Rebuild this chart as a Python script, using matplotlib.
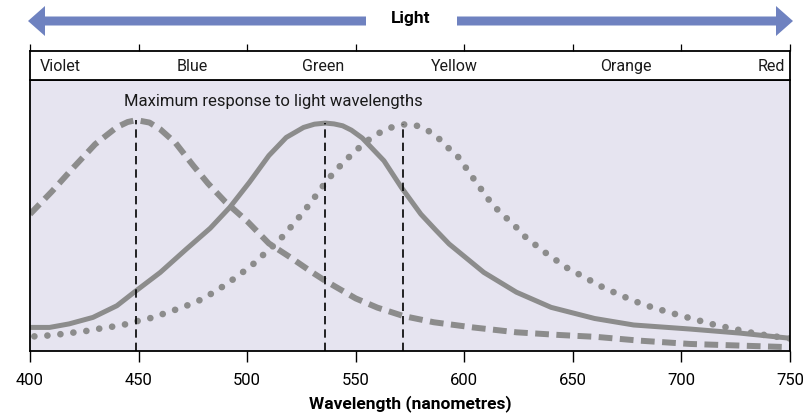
import numpy as np
import matplotlib.pyplot as plt
from matplotlib.patches import Polygon

plt.rcParams['font.family'] = ['Roboto', 'DejaVu Sans']

# wavelength (nm) / relative response
blue_nm = [400, 410, 420, 430, 440, 445, 449, 455, 460, 467, 475, 482, 490, 500, 510, 520,
           530, 536, 550, 560, 572, 586, 604, 624, 644, 661, 681, 704, 727, 750]
blue_val = [0.505, 0.588, 0.677, 0.763, 0.826, 0.845, 0.852, 0.843, 0.818, 0.768, 0.686,
            0.618, 0.550, 0.479, 0.397, 0.345, 0.290, 0.259, 0.194, 0.160, 0.129, 0.106,
            0.087, 0.069, 0.059, 0.052, 0.038, 0.026, 0.020, 0.014]

green_nm = [400, 409, 418, 429, 440, 448, 460, 472, 483, 492, 501, 510, 518, 526, 531,
            536, 540, 544, 548, 553, 563, 571, 580, 587, 593, 609, 624, 640, 660, 678,
            704, 727, 750]
green_val = [0.087, 0.087, 0.100, 0.124, 0.167, 0.217, 0.290, 0.376, 0.453, 0.530, 0.622,
             0.721, 0.788, 0.825, 0.837, 0.841, 0.838, 0.831, 0.815, 0.786, 0.702, 0.604,
             0.505, 0.445, 0.395, 0.290, 0.217, 0.161, 0.120, 0.096, 0.081, 0.066, 0.047]

red_nm = [402, 408, 414, 420, 426, 433, 439, 445, 451, 457, 462, 468, 474, 480, 485,
          490, 495, 500, 505, 509, 514, 518, 522, 526, 530, 533.5, 537, 541, 545.5, 550,
          555, 560, 565, 572, 577, 583, 588, 592, 597, 600.5, 604, 607.5, 611, 615, 619.5,
          624, 628, 633, 638, 643, 648, 654, 659, 664.5, 670, 676, 681, 687, 693, 699,
          705, 711, 717, 723, 729, 735, 741, 750]
red_val = [0.054, 0.057, 0.062, 0.068, 0.074, 0.084, 0.091, 0.100, 0.114, 0.124, 0.139,
           0.155, 0.173, 0.194, 0.219, 0.244, 0.273, 0.303, 0.335, 0.368, 0.401, 0.438,
           0.475, 0.514, 0.555, 0.594, 0.631, 0.668, 0.705, 0.739, 0.774, 0.801, 0.822,
           0.836, 0.835, 0.815, 0.786, 0.754, 0.718, 0.679, 0.639, 0.600, 0.561, 0.524,
           0.490, 0.456, 0.422, 0.390, 0.359, 0.331, 0.303, 0.278, 0.256, 0.232, 0.213,
           0.192, 0.176, 0.160, 0.146, 0.132, 0.119, 0.106, 0.093, 0.084, 0.073, 0.063,
           0.056, 0.046]

colour_names = ['Violet', 'Blue', 'Green', 'Yellow', 'Orange', 'Red']
colour_pos = [404.5, 474.5, 535, 595.5, 674.5, 747.5]
x_ticks = [400, 450, 500, 550, 600, 650, 700, 750]

W, H = 812, 414
fig = plt.figure(figsize=(W / 100, H / 100), dpi=100)
grey = '#8c8c8c'
arrow_c = '#6f82c0'

# main panel
ax = fig.add_axes([30 / W, (H - 352) / H, 760 / W, 271 / H])
ax.set_facecolor('#e6e4f0')
ax.plot(blue_nm, blue_val, color=grey, lw=4.3, ls=(0, (2.3, 1.25)),
        dash_capstyle='butt', dash_joinstyle='round')
ax.plot(green_nm, green_val, color=grey, lw=3.6, solid_capstyle='butt',
        solid_joinstyle='round')
ax.plot(red_nm, red_val, color=grey, lw=4.8, ls=(0, (0.01, 1.95)), dash_capstyle='round')

for nm, val in [(blue_nm, blue_val), (green_nm, green_val), (red_nm, red_val)]:
    i = int(np.argmax(val))
    ax.vlines(nm[i], 0, val[i], color='black', lw=1.2, ls=(0, (5, 3)))

ax.text(443.5, 0.925, 'Maximum response to light wavelengths', fontsize=12,
        va='center', ha='left', color='#1a1a1a')
ax.set_xlim(400, 750)
ax.set_ylim(0, 1)
ax.set_yticks([])
ax.set_xticks(x_ticks)
ax.tick_params(axis='x', direction='out', length=8, width=1, labelsize=12, pad=7)
for s in ax.spines.values():
    s.set_linewidth(1.3)
ax.set_xlabel('Wavelength (nanometres)', fontsize=12.5, fontweight='bold', labelpad=5)

# colour band
band = fig.add_axes([30 / W, (H - 81) / H, 760 / W, 29 / H])
band.set_xlim(400, 750)
band.set_ylim(0, 1)
band.set_yticks([])
band.set_xticks(x_ticks)
band.tick_params(axis='x', top=True, bottom=False, labeltop=False, labelbottom=False,
                 direction='out', length=5, width=0.9)
for s in band.spines.values():
    s.set_linewidth(1.3)
for i, (name, x) in enumerate(zip(colour_names, colour_pos)):
    ha = 'left' if i == 0 else ('right' if i == len(colour_names) - 1 else 'center')
    band.text(x, 0.5, name, ha=ha, va='center', fontsize=11.5, color='#1a1a1a')

# "Light" arrow
top = fig.add_axes([0, (H - 44) / H, 1, 44 / H])
top.set_xlim(0, W)
top.set_ylim(44, 0)
top.axis('off')
cy, sh, hh = 22, 4.5, 15
top.add_patch(Polygon([(28, cy), (45, cy - hh), (45, cy - sh), (366, cy - sh),
                       (366, cy + sh), (45, cy + sh), (45, cy + hh)],
                      closed=True, color=arrow_c, lw=0))
top.add_patch(Polygon([(793, cy), (776, cy - hh), (776, cy - sh), (457, cy - sh),
                       (457, cy + sh), (776, cy + sh), (776, cy + hh)],
                      closed=True, color=arrow_c, lw=0))
top.text(411, 19, 'Light', ha='center', va='center', fontsize=12.5, fontweight='bold')

fig.savefig('out.png', dpi=100)
